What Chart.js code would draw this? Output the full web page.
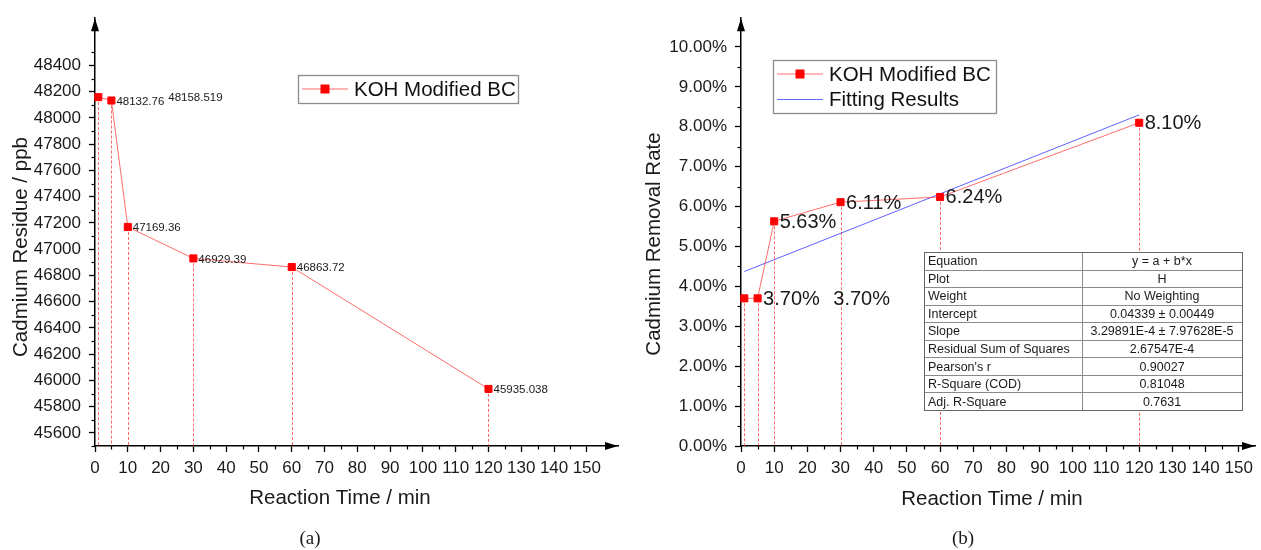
<!DOCTYPE html>
<html lang="en">
<head>
<meta charset="UTF-8" />
<title>Cadmium Removal - KOH Modified BC</title>
<script src="https://cdn.jsdelivr.net/npm/chart.js"></script>
<style>
  body { margin: 0; background: #fff; }
  .panel { position: absolute; top: 0; }
</style>
</head>
<body>
<canvas id="residueChart" class="panel" style="left:0" width="630" height="550"></canvas>
<canvas id="removalChart" class="panel" style="left:630px" width="631" height="550"></canvas>

<script>
// sampling times (min) and measured values
const reactionTime = [1, 5, 10, 30, 60, 120];
const residuePpb = [48158.519, 48132.76, 47169.36, 46929.39, 46863.72, 45935.038];
const removalPct = [3.70, 3.70, 5.63, 6.11, 6.24, 8.10];

// axis ticks
const timeTicks = [0, 10, 20, 30, 40, 50, 60, 70, 80, 90, 100, 110, 120, 130, 140, 150];
const timeMinor = [5, 15, 25, 35, 45, 55, 65, 75, 85, 95, 105, 115, 125, 135, 145];
const residueTicks = [45600, 45800, 46000, 46200, 46400, 46600, 46800, 47000, 47200, 47400, 47600, 47800, 48000, 48200, 48400];
const residueMinor = [45500, 45700, 45900, 46100, 46300, 46500, 46700, 46900, 47100, 47300, 47500, 47700, 47900, 48100, 48300, 48500];
const removalTicks = [0, 1, 2, 3, 4, 5, 6, 7, 8, 9, 10];
const removalMinor = [0.5, 1.5, 2.5, 3.5, 4.5, 5.5, 6.5, 7.5, 8.5, 9.5];

// linear fit (fraction units) and its report
const fitIntercept = 0.04339;
const fitSlope = 3.29891e-4;
const fitRange = [1, 120];
const fitTableKeys = ['Equation', 'Plot', 'Weight', 'Intercept', 'Slope', 'Residual Sum of Squares', "Pearson's r", 'R-Square (COD)', 'Adj. R-Square'];
const fitTableValues = ['y = a + b*x', 'H', 'No Weighting', '0.04339 \u00b1 0.00449', '3.29891E-4 \u00b1 7.97628E-5', '2.67547E-4', '0.90027', '0.81048', '0.7631'];

const FONT = "'Liberation Sans', Arial, sans-serif";
const RED_LINE = 'rgba(255, 60, 60, 0.75)';
const RED_DROP = 'rgba(255, 40, 40, 0.7)';

// draws Origin-style extras: arrows, minor ticks, drop lines, titles, labels, legend, table
const originDecor = {
  id: 'originDecor',
  beforeDatasetsDraw(chart, args, o) {
    const ctx = chart.ctx, area = chart.chartArea;
    const pts = chart.getDatasetMeta(0).data;
    ctx.save();
    ctx.strokeStyle = RED_DROP;
    ctx.lineWidth = 1;
    ctx.setLineDash([3, 2]);
    pts.forEach(p => {
      ctx.beginPath();
      ctx.moveTo(Math.round(p.x) + 0.5, p.y);
      ctx.lineTo(Math.round(p.x) + 0.5, area.bottom);
      ctx.stroke();
    });
    ctx.restore();
  },
  afterDatasetsDraw(chart, args, o) {
    const ctx = chart.ctx, area = chart.chartArea;
    const xs = chart.scales.x, ys = chart.scales.y;
    ctx.save();

    // minor ticks
    ctx.strokeStyle = '#000';
    ctx.lineWidth = 1.2;
    o.minorX.forEach(v => {
      const px = Math.round(xs.getPixelForValue(v)) + 0.5;
      ctx.beginPath(); ctx.moveTo(px, area.bottom); ctx.lineTo(px, area.bottom + 3.5); ctx.stroke();
    });
    o.minorY.forEach(v => {
      const py = Math.round(ys.getPixelForValue(v)) + 0.5;
      ctx.beginPath(); ctx.moveTo(area.left - 3.5, py); ctx.lineTo(area.left, py); ctx.stroke();
    });

    // axis arrows
    ctx.fillStyle = '#000';
    ctx.beginPath();
    ctx.moveTo(area.left, area.top);
    ctx.lineTo(area.left - 4, area.top + 13);
    ctx.lineTo(area.left + 4, area.top + 13);
    ctx.closePath(); ctx.fill();
    ctx.beginPath();
    ctx.moveTo(area.right, area.bottom);
    ctx.lineTo(area.right - 13, area.bottom - 4);
    ctx.lineTo(area.right - 13, area.bottom + 4);
    ctx.closePath(); ctx.fill();

    // point labels
    const pts = chart.getDatasetMeta(0).data;
    const vals = chart.data.datasets[0].data;
    ctx.fillStyle = '#1a1a1a';
    ctx.font = o.labelSize + 'px ' + FONT;
    ctx.textAlign = 'left';
    ctx.textBaseline = 'middle';
    pts.forEach((p, i) => {
      const dx = i === 0 ? o.firstLabelShift : o.labelGap;
      ctx.fillText(o.labelFmt(vals[i].y), p.x + dx, p.y + 1);
    });

    // axis titles and panel tag
    ctx.font = '20.5px ' + FONT;
    ctx.textAlign = 'center';
    ctx.fillText(o.xTitle, o.xTitleAt[0], o.xTitleAt[1]);
    ctx.save();
    ctx.translate(o.yTitleAt[0], o.yTitleAt[1]);
    ctx.rotate(-Math.PI / 2);
    ctx.fillText(o.yTitle, 0, 0);
    ctx.restore();
    ctx.font = "19px 'Liberation Serif', 'DejaVu Serif', serif";
    ctx.fillText(o.tag, o.tagAt[0], o.tagAt[1]);

    // legend
    const lg = o.legend;
    ctx.fillStyle = '#fff';
    ctx.fillRect(lg.x, lg.y, lg.w, lg.h);
    ctx.strokeStyle = '#8c8c8c';
    ctx.lineWidth = 1.3;
    ctx.strokeRect(lg.x + 0.5, lg.y + 0.5, lg.w, lg.h);
    chart.data.datasets.forEach((ds, i) => {
      const cy = lg.y + lg.rowTop + i * lg.rowGap;
      ctx.strokeStyle = ds.borderColor;
      ctx.lineWidth = 1;
      ctx.beginPath();
      ctx.moveTo(lg.x + 4, cy); ctx.lineTo(lg.x + 50, cy);
      ctx.stroke();
      if (ds.pointRadius > 0) {
        ctx.fillStyle = '#ff0000';
        ctx.fillRect(lg.x + 27 - 4.5, cy - 4.5, 9, 9);
      }
      ctx.fillStyle = '#111';
      ctx.font = '20.5px ' + FONT;
      ctx.textAlign = 'left';
      ctx.fillText(ds.label, lg.x + 56, cy + 1);
    });

    // fit report table
    if (o.table) {
      const t = o.table;
      const rh = t.h / fitTableKeys.length;
      ctx.fillStyle = '#fff';
      ctx.fillRect(t.x, t.y, t.w, t.h);
      ctx.strokeStyle = '#8a8a8a';
      ctx.lineWidth = 1;
      for (let r = 1; r < fitTableKeys.length; r++) {
        const ly = Math.round(t.y + r * rh) + 0.5;
        ctx.beginPath(); ctx.moveTo(t.x, ly); ctx.lineTo(t.x + t.w, ly); ctx.stroke();
      }
      ctx.beginPath(); ctx.moveTo(t.x + t.split + 0.5, t.y); ctx.lineTo(t.x + t.split + 0.5, t.y + t.h); ctx.stroke();
      ctx.strokeStyle = '#666';
      ctx.strokeRect(t.x + 0.5, t.y + 0.5, t.w, t.h);
      ctx.fillStyle = '#1a1a1a';
      ctx.font = '12.5px ' + FONT;
      fitTableKeys.forEach((k, r) => {
        const cy = t.y + (r + 0.5) * rh + 1;
        ctx.textAlign = 'left';
        ctx.fillText(k, t.x + 4, cy);
        ctx.textAlign = 'center';
        ctx.fillText(fitTableValues[r], t.x + t.split + (t.w - t.split) / 2, cy);
      });
    }
    ctx.restore();
  }
};

function timeAxis(max) {
  return {
    type: 'linear', min: 0, max: max,
    afterBuildTicks: s => { s.ticks = timeTicks.map(v => ({ value: v })); },
    afterFit: s => { s.height = 104; },
    grid: { drawOnChartArea: false, tickLength: 6, tickColor: '#000', tickWidth: 1.3 },
    border: { color: '#000', width: 1.5 },
    ticks: { autoSkip: false, maxRotation: 0, padding: 6, color: '#1a1a1a', font: { family: FONT, size: 17 } }
  };
}

function valueAxis(min, max, ticks, width, fmt) {
  return {
    type: 'linear', min: min, max: max,
    afterBuildTicks: s => { s.ticks = ticks.map(v => ({ value: v })); },
    afterFit: s => { s.width = width; },
    grid: { drawOnChartArea: false, tickLength: 6, tickColor: '#000', tickWidth: 1.3 },
    border: { color: '#000', width: 1.5 },
    ticks: { padding: 8, color: '#1a1a1a', font: { family: FONT, size: 17 }, callback: fmt }
  };
}

const dataStyle = {
  borderColor: RED_LINE,
  borderWidth: 1,
  pointStyle: 'rect',
  pointRadius: 5,
  pointBorderWidth: 1,
  pointBackgroundColor: '#ff0000',
  pointBorderColor: '#ff0000',
  clip: false
};

new Chart(document.getElementById('residueChart'), {
  type: 'line',
  data: {
    datasets: [Object.assign({
      label: 'KOH Modified BC',
      data: reactionTime.map((t, i) => ({ x: t, y: residuePpb[i] }))
    }, dataStyle)]
  },
  options: {
    responsive: false,
    animation: false,
    events: [],
    layout: { padding: { top: 15, right: 12, bottom: 0, left: 0 } },
    scales: {
      x: timeAxis(159.5),
      y: valueAxis(45500, 48760, residueTicks, 95, v => v)
    },
    plugins: {
      legend: { display: false },
      tooltip: { enabled: false },
      originDecor: {
        minorX: timeMinor, minorY: residueMinor,
        labelSize: 11.5, labelGap: 5, firstLabelShift: 70,
        labelFmt: v => String(v),
        xTitle: 'Reaction Time / min', xTitleAt: [340, 498],
        yTitle: 'Cadmium Residue / ppb', yTitleAt: [21, 247],
        tag: '(a)', tagAt: [310, 539],
        legend: { x: 298, y: 75, w: 220, h: 28, rowTop: 14, rowGap: 25 }
      }
    }
  },
  plugins: [originDecor]
});

new Chart(document.getElementById('removalChart'), {
  type: 'line',
  data: {
    datasets: [
      Object.assign({
        label: 'KOH Modified BC',
        data: reactionTime.map((t, i) => ({ x: t, y: removalPct[i] }))
      }, dataStyle),
      {
        label: 'Fitting Results',
        data: fitRange.map(t => ({ x: t, y: (fitIntercept + fitSlope * t) * 100 })),
        borderColor: 'rgba(70, 70, 255, 0.85)',
        borderWidth: 1,
        pointRadius: 0
      }
    ]
  },
  options: {
    responsive: false,
    animation: false,
    events: [],
    layout: { padding: { top: 15, right: 2, bottom: 0, left: 0 } },
    scales: {
      x: timeAxis(154.9),
      y: valueAxis(0, 10.72, removalTicks, 111, v => v.toFixed(2) + '%')
    },
    plugins: {
      legend: { display: false },
      tooltip: { enabled: false },
      originDecor: {
        minorX: timeMinor, minorY: removalMinor,
        labelSize: 20, labelGap: 5.5, firstLabelShift: 89,
        labelFmt: v => v.toFixed(2) + '%',
        xTitle: 'Reaction Time / min', xTitleAt: [362, 499],
        yTitle: 'Cadmium Removal Rate', yTitleAt: [24, 244],
        tag: '(b)', tagAt: [333, 539],
        legend: { x: 143, y: 60, w: 223, h: 53, rowTop: 14, rowGap: 25.5 },
        table: { x: 294, y: 252, w: 318, h: 158, split: 158 }
      }
    }
  },
  plugins: [originDecor]
});
</script>
</body>
</html>
